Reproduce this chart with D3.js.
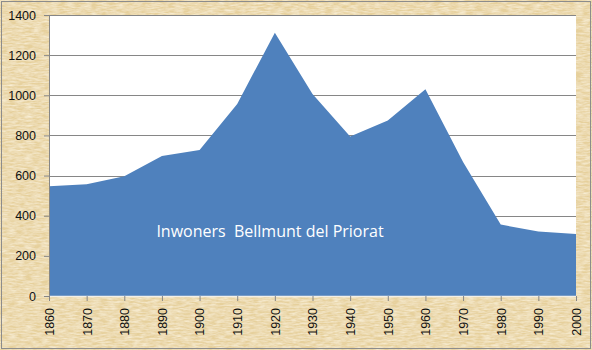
<!DOCTYPE html>
<html lang="ca">
<head>
  <meta charset="UTF-8">
  <title>Inwoners Bellmunt del Priorat</title>
  <style>
    body { margin: 0; background: #fff; }
    svg { display: block; }
    .tick text { font-family: "Liberation Sans", Arial, sans-serif; font-size: 12.5px; fill: #111; }
  </style>
</head>
<body>
  <div id="chart"></div>
  <script src="https://d3js.org/d3.v7.min.js"></script>
  <script>
    // values
    const years = [1860, 1870, 1880, 1890, 1900, 1910, 1920, 1930, 1940, 1950, 1960, 1970, 1980, 1990, 2000];
    const inhabitants = [547, 557, 597, 698, 728, 957, 1312, 1006, 795, 874, 1030, 668, 356, 321, 309];
    const yTicks = [0, 200, 400, 600, 800, 1000, 1200, 1400];
    const seriesName = "Inwoners  Bellmunt del Priorat";

    const width = 592, height = 350;
    const margin = { top: 15, right: 16, bottom: 54, left: 49 };

    const svg = d3.select("#chart").append("svg")
      .attr("width", width)
      .attr("height", height);

    // papyrus-like background
    const defs = svg.append("defs");
    const f = defs.append("filter").attr("id", "papyrus")
      .attr("x", 0).attr("y", 0).attr("width", "100%").attr("height", "100%");
    f.append("feTurbulence")
      .attr("type", "fractalNoise")
      .attr("baseFrequency", "0.12 0.6")
      .attr("numOctaves", 3)
      .attr("seed", 4)
      .attr("result", "noise");
    f.append("feColorMatrix")
      .attr("in", "noise")
      .attr("type", "matrix")
      .attr("values", "0 0 0 0 0.96  0 0 0 0 0.88  0 0 0 0 0.70  0 0 0 -1.4 1.0")
      .attr("result", "tint");
    f.append("feComposite").attr("in", "tint").attr("in2", "SourceGraphic").attr("operator", "over");

    svg.append("rect")
      .attr("x", 0).attr("y", 0)
      .attr("width", width).attr("height", height)
      .attr("fill", "#e6d09c");
    svg.append("rect")
      .attr("x", 0).attr("y", 0)
      .attr("width", width).attr("height", height)
      .attr("fill", "#e6d09c")
      .attr("filter", "url(#papyrus)");
    svg.append("rect")
      .attr("x", 1.5).attr("y", 1.5)
      .attr("width", width - 3).attr("height", height - 3)
      .attr("fill", "none")
      .attr("stroke", "#8c8c8c")
      .attr("stroke-width", 1);

    const x = d3.scaleLinear()
      .domain([years[0], years[years.length - 1]])
      .range([margin.left, width - margin.right]);

    const y = d3.scaleLinear()
      .domain([0, 1400])
      .range([height - margin.bottom, margin.top]);

    // plot area
    svg.append("rect")
      .attr("x", margin.left).attr("y", margin.top)
      .attr("width", width - margin.left - margin.right)
      .attr("height", height - margin.top - margin.bottom)
      .attr("fill", "#fff");

    // gridlines
    svg.append("g")
      .selectAll("line")
      .data(yTicks.slice(1))
      .join("line")
      .attr("x1", margin.left).attr("x2", width - margin.right)
      .attr("y1", d => Math.round(y(d)) + 0.5).attr("y2", d => Math.round(y(d)) + 0.5)
      .attr("stroke", "#868686");

    // area
    const area = d3.area()
      .x((d, i) => x(years[i]))
      .y0(y(0))
      .y1(d => y(d));

    svg.append("path")
      .datum(inhabitants)
      .attr("d", area)
      .attr("fill", "#4f81bd");

    svg.append("text")
      .attr("x", 270)
      .attr("y", 237)
      .attr("text-anchor", "middle")
      .attr("fill", "#fff")
      .style("font-family", "'Open Sans', sans-serif")
      .style("font-size", "16px")
      .style("white-space", "pre")
      .attr("xml:space", "preserve")
      .text(seriesName);

    // y axis
    const yAxis = svg.append("g")
      .attr("transform", `translate(${margin.left},0)`)
      .call(d3.axisLeft(y).tickValues(yTicks).tickFormat(d3.format("d")).tickSize(5).tickPadding(8).tickSizeOuter(0));
    yAxis.select(".domain").attr("stroke", "#868686");
    yAxis.selectAll(".tick line").attr("stroke", "#868686");

    // x axis
    const xAxis = svg.append("g")
      .attr("transform", `translate(0,${y(0)})`)
      .call(d3.axisBottom(x).tickValues(years).tickFormat(d3.format("d")).tickSize(5).tickSizeOuter(0));
    xAxis.select(".domain").attr("stroke", "#f4f0e6").attr("stroke-width", 1.5);
    xAxis.selectAll(".tick line").attr("stroke", "#868686");
    xAxis.selectAll(".tick text")
      .attr("transform", "rotate(-90)")
      .attr("text-anchor", "end")
      .attr("x", -12)
      .attr("y", 0)
      .attr("dy", "0.35em");
  </script>
</body>
</html>
